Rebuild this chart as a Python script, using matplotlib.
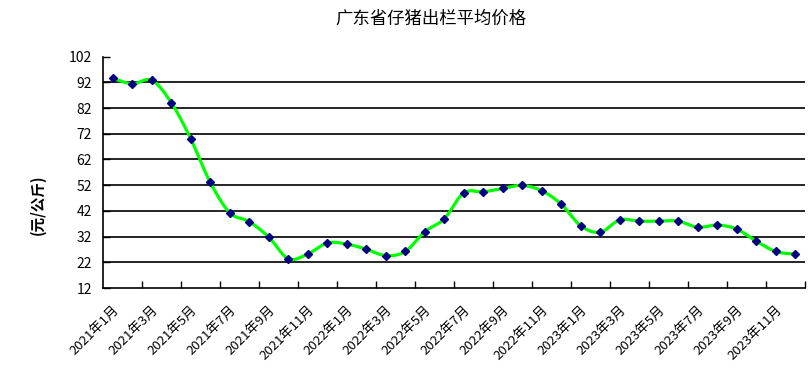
import numpy as np
import matplotlib
matplotlib.use("Agg")
import matplotlib.pyplot as plt

plt.rcParams['font.family'] = ['Noto Sans CJK SC', 'DejaVu Sans']

# monthly price, 2021-01 .. 2023-12 (yuan / kg)
months = [f"{y}年{m}月" for y in (2021, 2022, 2023) for m in range(1, 13)]
prices = [93.6, 91.4, 92.8, 84.1, 70.0, 53.1, 41.3, 37.8, 31.8, 23.4, 25.2, 29.5,
          29.1, 27.1, 24.6, 26.2, 33.9, 38.9, 49.0, 49.4, 50.7, 51.9, 49.8, 44.6,
          36.2, 33.7, 38.5, 38.0, 38.0, 38.0, 35.6, 36.5, 34.9, 30.2, 26.2, 25.2]
yticks = list(range(12, 103, 10))

title = "广东省仔猪出栏平均价格"
ylabel = "(元/公斤)"


def smooth(x, y, n=20):
    # excel-like smoothed line (bezier through each point)
    x = np.asarray(x, float)
    y = np.asarray(y, float)
    px = np.concatenate([[x[0]], x, [x[-1]]])
    py = np.concatenate([[y[0]], y, [y[-1]]])
    xs, ys = [], []
    t = np.linspace(0, 1, n)
    for i in range(1, len(x)):
        p0 = np.array([px[i - 1], py[i - 1]])
        p1 = np.array([px[i], py[i]])
        p2 = np.array([px[i + 1], py[i + 1]])
        p3 = np.array([px[i + 2], py[i + 2]])
        c1 = p1 + (p2 - p0) / 6
        c2 = p2 - (p3 - p1) / 6
        b = ((1 - t) ** 3)[:, None] * p1 + (3 * (1 - t) ** 2 * t)[:, None] * c1 \
            + (3 * (1 - t) * t ** 2)[:, None] * c2 + (t ** 3)[:, None] * p2
        xs.extend(b[:, 0])
        ys.extend(b[:, 1])
    return xs, ys


x = np.arange(len(prices))

fig = plt.figure(figsize=(8.1, 3.85), dpi=100)
ax = fig.add_axes([103 / 810, 1 - 288 / 385, 702 / 810, (288 - 56.6) / 385])

for v in yticks[1:-1]:
    ax.axhline(v, color='black', lw=1.2, zorder=1)

sx, sy = smooth(x, prices)
ax.plot(sx, sy, color='#00ff00', lw=2.3, zorder=2, solid_capstyle='round')
ax.plot(x, prices, ls='none', marker='D', ms=4.5, color='#000080',
        markeredgecolor='#000080', zorder=3)

ax.set_xlim(-0.5, len(prices) - 0.5)
ax.set_ylim(12, 102)
ax.set_yticks(yticks)
ax.set_yticklabels([str(v) for v in yticks], fontsize=10)

ax.set_xticks(x[::2])
ax.set_xticklabels(months[::2], rotation=45, ha='right', va='top',
                   rotation_mode='anchor', fontsize=9.5)
ax.set_xticks(np.arange(1.5, len(prices), 2), minor=True)
ax.tick_params(axis='x', which='major', length=0, pad=11)
ax.tick_params(axis='x', which='minor', direction='in', length=5, width=1)
ax.tick_params(axis='y', direction='in', length=5, width=1, pad=8)

for s in ('top', 'right'):
    ax.spines[s].set_visible(False)
for s in ('left', 'bottom'):
    ax.spines[s].set_linewidth(1.2)

fig.text(431 / 810, 1 - 19 / 385, title, ha='center', va='center', fontsize=12.5)
fig.text(38 / 810, 1 - 205 / 385, ylabel, ha='center', va='center',
         rotation=90, fontsize=10.5, fontweight='bold')

fig.savefig("out.png", dpi=100)
